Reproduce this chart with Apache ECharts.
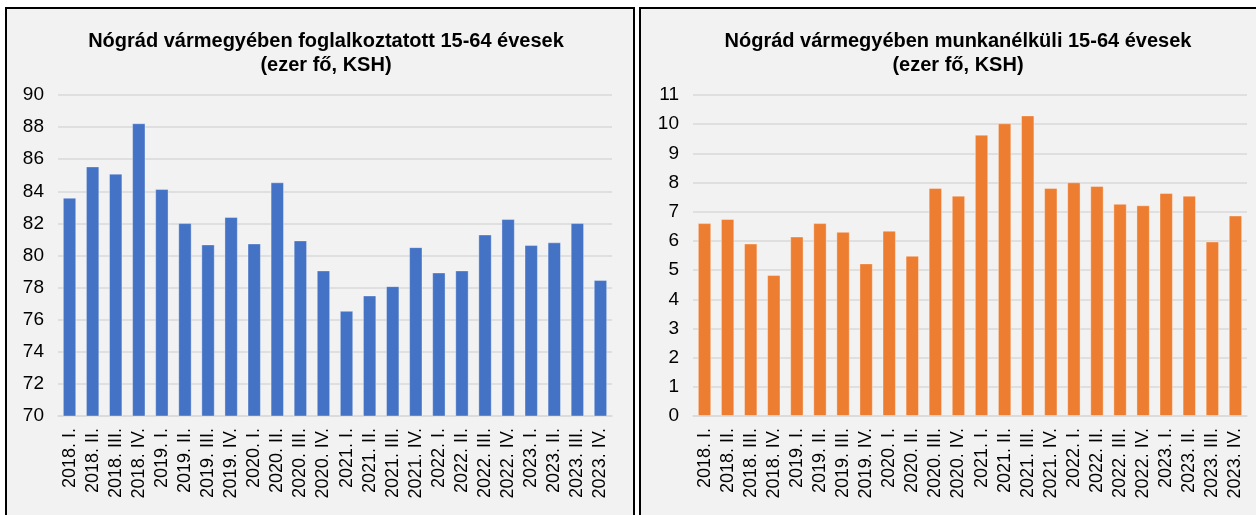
<!DOCTYPE html>
<html><head><meta charset="utf-8">
<script src="https://cdn.jsdelivr.net/npm/echarts@6/dist/echarts.min.js"></script>
<style>
html,body{margin:0;padding:0;background:#fff;width:1256px;height:515px;overflow:hidden;}
.panel{position:absolute;top:7px;height:540px;border:2px solid #000;background:#f2f2f2;box-sizing:border-box;}
#p1{left:5px;width:630px;}
#p2{left:639px;width:640px;}
.chart{position:absolute;left:0;top:0;width:100%;height:100%;}
</style></head>
<body>
<div class="panel" id="p1"><div class="chart" id="c1"></div></div>
<div class="panel" id="p2"><div class="chart" id="c2"></div></div>
<script>
const categories = ["2018. I.","2018. II.","2018. III.","2018. IV.","2019. I.","2019. II.","2019. III.","2019. IV.","2020. I.","2020. II.","2020. III.","2020. IV.","2021. I.","2021. II.","2021. III.","2021. IV.","2022. I.","2022. II.","2022. III.","2022. IV.","2023. I.","2023. II.","2023. III.","2023. IV."];
const employed = [83.6,85.55,85.1,88.24,84.14,82.02,80.69,82.4,80.75,84.56,80.94,79.07,76.55,77.51,78.09,80.52,78.94,79.07,81.31,82.27,80.65,80.82,82.02,78.47];
const unemployed = [6.61,6.75,5.91,4.83,6.15,6.61,6.31,5.23,6.35,5.49,7.81,7.55,9.64,10.03,10.3,7.81,8.01,7.88,7.27,7.22,7.64,7.55,5.98,6.87];
const title1 = "Nógrád vármegyében foglalkoztatott 15-64 évesek\n(ezer fő, KSH)";
const title2 = "Nógrád vármegyében munkanélküli 15-64 évesek\n(ezer fő, KSH)";

function makeOption(title, data, color, min, max, interval, gridLeft, gridRight, titleCenter){
  return {
    animation:false,
    textStyle:{fontFamily:'"Liberation Sans", Arial, sans-serif'},
    title:{text:title,left:titleCenter,textAlign:'center',top:15,
      textStyle:{fontFamily:'"Liberation Sans", Arial, sans-serif',fontWeight:'bold',fontSize:20,color:'#000',lineHeight:24}},
    grid:{left:gridLeft,right:gridRight,top:86,height:321,containLabel:false},
    xAxis:{type:'category',data:categories,
      axisLine:{lineStyle:{color:'#d9d9d9',width:1.5}},
      axisTick:{show:false},
      axisLabel:{rotate:90,fontSize:18,color:'#000',margin:12,interval:0,fontFamily:'"Liberation Sans", Arial, sans-serif'}},
    yAxis:{type:'value',min:min,max:max,interval:interval,
      axisLine:{show:false},axisTick:{show:false},
      splitLine:{lineStyle:{color:'#d9d9d9',width:1.5}},
      axisLabel:{fontSize:19,color:'#000',margin:14,fontFamily:'"Liberation Sans", Arial, sans-serif'}},
    series:[{type:'bar',data:data,barWidth:'58%',
      itemStyle:{color:color,borderColor:'rgba(255,255,255,0.35)',borderWidth:1}}]
  };
}
const c1 = echarts.init(document.getElementById('c1'),null,{renderer:'canvas'});
c1.setOption(makeOption(title1, employed, '#4472c4', 70, 90, 2, 51, 626-605, 314));
const c2 = echarts.init(document.getElementById('c2'),null,{renderer:'canvas'});
c2.setOption(makeOption(title2, unemployed, '#ed7d31', 0, 11, 1, 52, 636-606, 312));
</script>
</body></html>
